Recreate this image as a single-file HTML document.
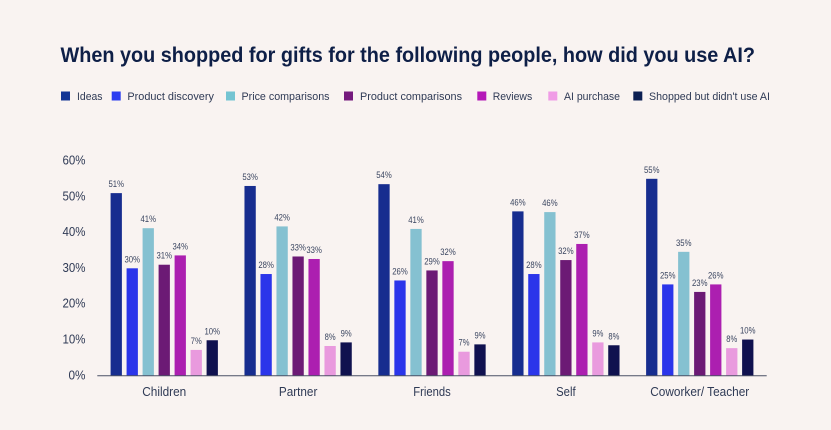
<!DOCTYPE html>
<html lang="en">
<head>
<meta charset="utf-8">
<title>When you shopped for gifts for the following people, how did you use AI?</title>
<style>
html,body{margin:0;padding:0;background:#f9f3f1;}
body{width:831px;height:430px;overflow:hidden;}
svg{display:block;font-family:"Liberation Sans",sans-serif;}
</style>
</head>
<body>
<svg id="chart" width="831" height="430" viewBox="0 0 831 430" xmlns="http://www.w3.org/2000/svg">
  <rect x="0" y="0" width="831" height="430" fill="#f9f3f1"/>
  <text x="60.5" y="62" font-size="21.5" font-weight="700" fill="#0e1f47" textLength="694.5" lengthAdjust="spacingAndGlyphs">When you shopped for gifts for the following people, how did you use AI?</text>
  <g id="legend" font-size="11" fill="#2f3a55">
    <g><rect x="61" y="91.5" width="9" height="9" fill="#133595"/><text x="77" y="99.8" textLength="25.5" lengthAdjust="spacingAndGlyphs">Ideas</text></g>
    <g><rect x="111.7" y="91.5" width="9" height="9" fill="#2b3cf0"/><text x="127.4" y="99.8" textLength="86.5" lengthAdjust="spacingAndGlyphs">Product discovery</text></g>
    <g><rect x="226" y="91.5" width="9" height="9" fill="#74c4d2"/><text x="241.5" y="99.8" textLength="88" lengthAdjust="spacingAndGlyphs">Price comparisons</text></g>
    <g><rect x="344" y="91.5" width="9" height="9" fill="#751a7d"/><text x="360" y="99.8" textLength="102" lengthAdjust="spacingAndGlyphs">Product comparisons</text></g>
    <g><rect x="477.3" y="91.5" width="9" height="9" fill="#b518b8"/><text x="492.7" y="99.8" textLength="39.5" lengthAdjust="spacingAndGlyphs">Reviews</text></g>
    <g><rect x="548.3" y="91.5" width="9" height="9" fill="#f09ce6"/><text x="564" y="99.8" textLength="56" lengthAdjust="spacingAndGlyphs">AI purchase</text></g>
    <g><rect x="633.3" y="91.5" width="9" height="9" fill="#0c1f52"/><text x="649" y="99.8" textLength="121" lengthAdjust="spacingAndGlyphs">Shopped but didn't use AI</text></g>
  </g>
  <g id="y-axis"></g>
  <g id="bars"></g>
  <g id="value-labels"></g>
  <g id="x-axis"></g>
</svg>
<script>
const categories = ["Children", "Partner", "Friends", "Self", "Coworker/ Teacher"];
const seriesNames = ["Ideas", "Product discovery", "Price comparisons", "Product comparisons", "Reviews", "AI purchase", "Shopped but didn't use AI"];
const seriesColors = ["#172d8f", "#2b35ea", "#85c1d1", "#6c1a75", "#ac1fb0", "#e99ade", "#10114f"];
const ideas = [51, 53, 53.5, 45.9, 55];
const productDiscovery = [30, 28.4, 26.6, 28.4, 25.5];
const priceComparisons = [41.2, 41.7, 41, 45.7, 34.6];
const productComparisons = [31, 33.3, 29.4, 32.3, 23.4];
const reviews = [33.6, 32.6, 32, 36.8, 25.5];
const aiPurchase = [7.2, 8.3, 6.7, 9.3, 7.7];
const shoppedNoAi = [9.9, 9.3, 8.75, 8.5, 10.1];
const ideasLabels = ["51%", "53%", "54%", "46%", "55%"];
const productDiscoveryLabels = ["30%", "28%", "26%", "28%", "25%"];
const priceComparisonsLabels = ["41%", "42%", "41%", "46%", "35%"];
const productComparisonsLabels = ["31%", "33%", "29%", "32%", "23%"];
const reviewsLabels = ["34%", "33%", "32%", "37%", "26%"];
const aiPurchaseLabels = ["7%", "8%", "7%", "9%", "8%"];
const shoppedNoAiLabels = ["10%", "9%", "9%", "8%", "10%"];
const yTicks = [0, 10, 20, 30, 40, 50, 60];

const seriesValues = [ideas, productDiscovery, priceComparisons, productComparisons, reviews, aiPurchase, shoppedNoAi];
const seriesLabels = [ideasLabels, productDiscoveryLabels, priceComparisonsLabels, productComparisonsLabels, reviewsLabels, aiPurchaseLabels, shoppedNoAiLabels];

const NS = "http://www.w3.org/2000/svg";
const plotLeft = 97.3, plotRight = 766.7, baseY = 375.7, pxPerUnit = 3.58;
const barW = 11.3, barPitch = 16;
const bandW = (plotRight - plotLeft) / categories.length;

function yScale(v) { return baseY - v * pxPerUnit; }
function bandCenter(i) { return plotLeft + bandW * (i + 0.5); }
function barX(i, s) {
  const total = barPitch * (seriesValues.length - 1) + barW;
  return bandCenter(i) - total / 2 + s * barPitch;
}
function slug(t) { return t.toLowerCase().replace(/[^a-z0-9]+/g, "-").replace(/^-|-$/g, ""); }
function svgEl(tag, attrs) {
  const el = document.createElementNS(NS, tag);
  for (const k in attrs) el.setAttribute(k, attrs[k]);
  return el;
}

const yAxisG = document.getElementById("y-axis");
yTicks.forEach(function (t) {
  const label = svgEl("text", {
    x: 85.5, y: yScale(t) + 3.6, "text-anchor": "end", "font-size": 13, fill: "#2f3a55",
    textLength: t === 0 ? 17 : 23, lengthAdjust: "spacingAndGlyphs"
  });
  
  
  label.textContent = t + "%";
  yAxisG.appendChild(label);
});

const barsG = document.getElementById("bars");
const labelsG = document.getElementById("value-labels");
seriesValues.forEach(function (values, s) {
  values.forEach(function (v, i) {
    const top = yScale(v);
    const bar = svgEl("rect", {
      x: barX(i, s), y: top, width: barW, height: baseY - top, fill: seriesColors[s]
    });
    
    
    bar.setAttribute('aria-label', categories[i] + " " + seriesNames[s]);
    barsG.appendChild(bar);

    const txt = seriesLabels[s][i];
    const lbl = svgEl("text", {
      x: barX(i, s) + barW / 2, y: top - 6, "text-anchor": "middle", "font-size": 9.5, fill: "#3a4560",
      textLength: txt.length === 3 ? 15.5 : 11, lengthAdjust: "spacingAndGlyphs"
    });
    
    
    lbl.textContent = txt;
    labelsG.appendChild(lbl);
  });
});

const xAxisG = document.getElementById("x-axis");
const axisLine = svgEl("line", {
  x1: plotLeft, x2: plotRight, y1: baseY, y2: baseY, stroke: "#4a5165", "stroke-width": 1
});


xAxisG.appendChild(axisLine);

const catWidths = [44, 38.5, 37.5, 19.5, 99];
categories.forEach(function (c, i) {
  const t = svgEl("text", {
    x: bandCenter(i), y: 396, "text-anchor": "middle", "font-size": 12.5, fill: "#2f3a55",
    textLength: catWidths[i], lengthAdjust: "spacingAndGlyphs"
  });
  
  
  t.textContent = c;
  xAxisG.appendChild(t);
});
</script>
</body>
</html>
